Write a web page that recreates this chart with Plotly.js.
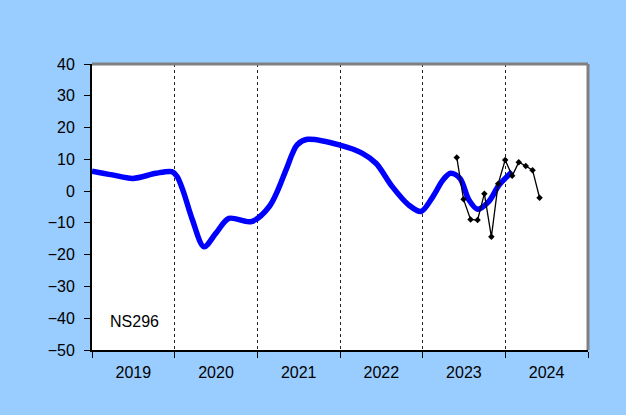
<!DOCTYPE html>
<html>
<head>
<meta charset="utf-8">
<script src="https://cdn.plot.ly/plotly-3.0.1.min.js"></script>
<style>html,body{margin:0;padding:0;background:#99CCFF;}#chart{width:626px;height:415px;}</style>
</head>
<body>
<div id="chart"></div>
<script>
// Smoothed trend (blue)
var trendDates = ['2019-01-01','2019-04-01','2019-07-01','2019-10-10','2019-12-20','2020-01-12','2020-02-08','2020-03-20','2020-05-10','2020-07-01','2020-08-28','2020-12-05','2021-02-25','2021-05-07','2021-06-05','2021-06-26','2021-08-10','2022-01-01','2022-04-10','2022-06-10','2022-08-20','2022-11-01','2022-12-25','2023-02-15','2023-04-01','2023-05-05','2023-06-15','2023-07-25','2023-09-01','2023-10-20','2023-12-05','2024-02-01'];
var trendValues = [6.3,5.1,4.0,5.6,6.1,4.6,0.0,-9.1,-17.5,-13.3,-8.6,-9.6,-4.6,6.6,11.9,14.6,16.3,14.5,11.9,8.7,1.4,-4.4,-6.4,-1.8,3.5,5.6,4.0,-2.8,-5.7,-3.3,1.9,6.1];
// Monthly observations (black)
var monthDates = ['2023-06-01','2023-07-01','2023-08-01','2023-09-01','2023-10-01','2023-11-01','2023-12-01','2024-01-01','2024-02-01','2024-03-01','2024-04-01','2024-05-01','2024-06-01'];
var monthValues = [10.6,-2.6,-8.9,-9.1,-0.8,-14.4,2.3,9.8,4.8,9.1,7.9,6.6,-2.1];
var seriesLabel = 'NS296';

var traces = [
  {x: trendDates, y: trendValues, type: 'scatter', mode: 'lines',
   line: {color: '#0000FF', width: 5.5, shape: 'spline', smoothing: 0.9}, hoverinfo: 'skip'},
  {x: monthDates, y: monthValues, type: 'scatter', mode: 'lines+markers',
   line: {color: '#000000', width: 1.3},
   marker: {symbol: 'diamond', size: 5, color: '#000000'}, hoverinfo: 'skip'}
];

var layout = {
  width: 626, height: 415,
  paper_bgcolor: '#99CCFF', plot_bgcolor: '#FFFFFF',
  margin: {l: 92, r: 38, t: 64, b: 65},
  showlegend: false,
  font: {family: 'Liberation Sans, Arial, sans-serif', color: '#000000', size: 16},
  xaxis: {
    type: 'date', range: ['2019-01-01', '2025-01-01'],
    tick0: '2019-01-01', dtick: 'M12', tickformat: '%Y', ticklabelmode: 'period',
    ticks: 'outside', ticklen: 6, tickwidth: 1, tickcolor: '#000000',
    showgrid: true, gridcolor: '#222222', gridwidth: 1, griddash: 'dot',
    showline: true, linecolor: '#000000', linewidth: 2,
    zeroline: false, fixedrange: true,
    tickfont: {size: 16, color: '#000000'}, ticklabelstandoff: 1
  },
  yaxis: {
    range: [-50, 40], dtick: 10, tick0: 0,
    ticks: 'outside', ticklen: 6, tickwidth: 1, tickcolor: '#000000',
    showgrid: false, zeroline: false,
    showline: true, linecolor: '#000000', linewidth: 2,
    tickfont: {size: 16, color: '#000000'}, ticklabelstandoff: 6, fixedrange: true
  },
  shapes: [
    {type: 'line', xref: 'paper', yref: 'paper', x0: 0, x1: 1, y0: 1, y1: 1, line: {color: '#808080', width: 3}},
    {type: 'line', xref: 'paper', yref: 'paper', x0: 1, x1: 1, y0: 0, y1: 1, line: {color: '#808080', width: 3}}
  ],
  annotations: [
    {text: seriesLabel, xref: 'paper', yref: 'y', x: 0.033, y: -41, xanchor: 'left', yanchor: 'middle',
     showarrow: false, font: {size: 16, color: '#000000'}}
  ]
};

Plotly.newPlot('chart', traces, layout, {displayModeBar: false, staticPlot: true});
</script>
</body>
</html>
